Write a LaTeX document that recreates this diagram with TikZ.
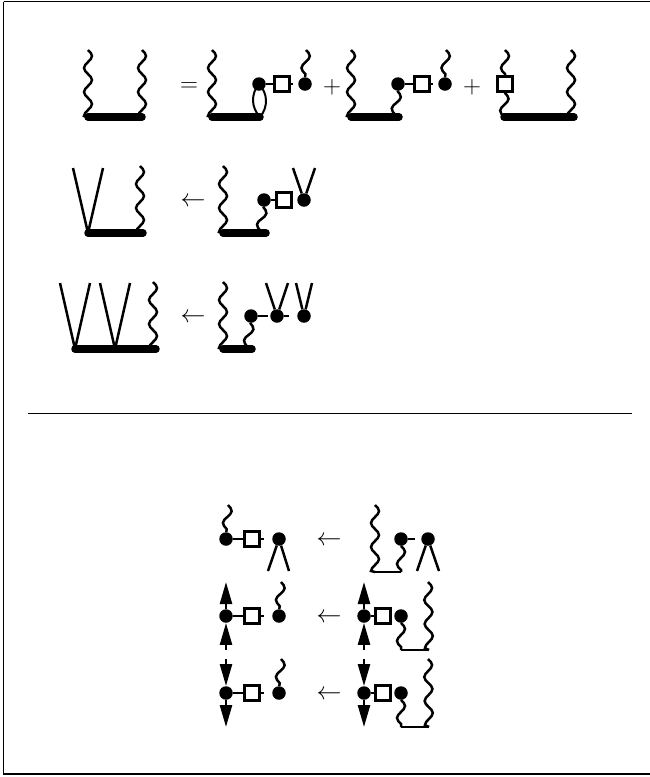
\documentclass[tikz,border=0pt]{standalone}
\usetikzlibrary{arrows.meta,decorations}
\pgfdeclaredecoration{wave}{waveA}{
    \state{waveA}[width=6pt, next state=waveB]{\pgfpathcurveto{\pgfqpoint{1.96pt}{2.05pt}}{\pgfqpoint{3.83pt}{4pt}}{\pgfqpoint{6pt}{4pt}}}
    \state{waveB}[width=6pt, next state=waveC]{\pgfpathcurveto{\pgfqpoint{2.17pt}{4pt}}{\pgfqpoint{4.04pt}{2.05pt}}{\pgfqpoint{6pt}{0pt}}}
    \state{waveC}[width=6pt, next state=waveD]{\pgfpathcurveto{\pgfqpoint{1.96pt}{-2.05pt}}{\pgfqpoint{3.83pt}{-4pt}}{\pgfqpoint{6pt}{-4pt}}}
    \state{waveD}[width=6pt, next state=waveA]{\pgfpathcurveto{\pgfqpoint{2.17pt}{-4pt}}{\pgfqpoint{4.04pt}{-2.05pt}}{\pgfqpoint{6pt}{0pt}}}
    \state{final}{\pgfpathlineto{\pgfpointdecoratedpathlast}}
}
\begin{document}
\begin{tikzpicture}[
        x=1pt, y=-1pt,
        dot/.style={circle, fill=black, inner sep=0pt, minimum size=13.5pt},
        sq/.style={rectangle, draw, line width=2.5pt, fill=white, inner sep=0pt, minimum size=15pt},
        op/.style={inner sep=0pt, font=\fontsize{25}{30}\selectfont},
        bar/.style={line width=7.5pt, line cap=round},
        leg/.style={line width=2.5pt},
        wavy/.style={line width=2.5pt, decorate, decoration={wave}},
        uptip/.style={leg, -{Triangle[length=22pt, width=12pt]}}
    ]
        \useasboundingbox (0,0) rectangle (649,777);
        \draw[line width=1.2pt] (3.5,1.5) -- (3.5,774) -- (650,774);
        \draw[line width=1.2pt] (3.5,1.5) -- (650,1.5);
        \draw[line width=0.9pt] (28,413) -- (632,413);

        \coordinate (a1) at (88,117);
        \coordinate (a2) at (142,117);
        \coordinate (a3) at (88,50);
        \coordinate (a4) at (142,50);
        \draw[bar] (a1) -- (a2);
        \draw[wavy] (a3) -- (a1);
        \draw[wavy] (a4) -- (a2);
        \node[op] (eq) at (189,87) {$=$};

        \coordinate (b1) at (212,117);
        \coordinate (b2) at (260,117);
        \coordinate (b3) at (212,50);
        \coordinate (b4) at (306,50);
        \coordinate (b5) at (293,84);
        \node[dot] (bd) at (259,84) {};
        \node[sq] (bs) at (282,84) {};
        \node[dot] (be) at (305,84) {};
        \draw[bar] (b1) -- (b2);
        \draw[wavy] (b3) -- (b1);
        \draw[leg] (bd) -- (bs);
        \draw[leg] (bs) -- (b5);
        \draw[wavy] (b4) -- (be);
        \draw[line width=2pt] (bd.center) to[bend left=42] (b2);
        \draw[line width=2pt] (bd.center) to[bend right=42] (b2);
        \node[op] (pa) at (332,87) {$+$};

        \coordinate (c1) at (351,117);
        \coordinate (c2) at (399,117);
        \coordinate (c3) at (351,50);
        \coordinate (c4) at (446,50);
        \coordinate (c5) at (433,84);
        \coordinate (c6) at (395,117);
        \node[dot] (cd) at (398,84) {};
        \node[sq] (cs) at (422,84) {};
        \node[dot] (ce) at (445,84) {};
        \draw[bar] (c1) -- (c2);
        \draw[wavy] (c3) -- (c1);
        \draw[wavy] (cd) -- (c6);
        \draw[leg] (cd) -- (cs);
        \draw[leg] (cs) -- (c5);
        \draw[wavy] (c4) -- (ce);
        \node[op] (pb) at (472,87) {$+$};

        \coordinate (d1) at (504,117);
        \coordinate (d2) at (574,117);
        \coordinate (d3) at (505,50);
        \coordinate (d4) at (571,50);
        \coordinate (d5) at (571,117);
        \node[sq] (ds) at (505,84) {};
        \draw[bar] (d1) -- (d2);
        \draw[wavy] (d3) -- (ds);
        \draw[wavy] (ds) -- (d1);
        \draw[wavy] (d4) -- (d5);

        \coordinate (e1) at (88,233);
        \coordinate (e2) at (143,233);
        \coordinate (e3) at (73,168);
        \coordinate (e4) at (103,168);
        \coordinate (e5) at (140,166);
        \coordinate (e6) at (140,233);
        \draw[bar] (e1) -- (e2);
        \draw[leg] (e3) -- (e1);
        \draw[leg] (e4) -- (e1);
        \draw[wavy] (e5) -- (e6);
        \node[op] (la) at (193,202) {$\leftarrow$};

        \coordinate (f1) at (223,233);
        \coordinate (f2) at (266,233);
        \coordinate (f3) at (223,166);
        \coordinate (f4) at (260,233);
        \coordinate (f5) at (293,168);
        \coordinate (f6) at (315,168);
        \node[dot] (fd) at (264,200) {};
        \node[sq] (fs) at (284,200) {};
        \node[dot] (fe) at (304,200) {};
        \draw[bar] (f1) -- (f2);
        \draw[wavy] (f3) -- (f1);
        \draw[wavy] (fd) -- (f4);
        \draw[leg] (fd) -- (fs);
        \draw[leg] (f5) -- (fe);
        \draw[leg] (f6) -- (fe);

        \coordinate (g1) at (75,349);
        \coordinate (g2) at (156,349);
        \coordinate (g3) at (60,283);
        \coordinate (g4) at (90,283);
        \coordinate (g5) at (115,349);
        \coordinate (g6) at (100,283);
        \coordinate (g7) at (130,283);
        \coordinate (g8) at (153,282);
        \coordinate (g9) at (153,349);
        \draw[bar] (g1) -- (g2);
        \draw[leg] (g3) -- (g1);
        \draw[leg] (g4) -- (g1);
        \draw[leg] (g6) -- (g5);
        \draw[leg] (g7) -- (g5);
        \draw[wavy] (g8) -- (g9);
        \node[op] (lb) at (193,318) {$\leftarrow$};

        \coordinate (h1) at (223,349);
        \coordinate (h2) at (252,349);
        \coordinate (h3) at (223,282);
        \coordinate (h4) at (247,349);
        \coordinate (h5) at (268,316);
        \coordinate (h6) at (289,316);
        \coordinate (h7) at (266,283);
        \coordinate (h8) at (288,283);
        \coordinate (h9) at (296,283);
        \coordinate (h10) at (312,283);
        \node[dot] (hd) at (251,316) {};
        \node[dot] (he) at (277,316) {};
        \node[dot] (hf) at (304,316) {};
        \draw[bar] (h1) -- (h2);
        \draw[wavy] (h3) -- (h1);
        \draw[wavy] (hd) -- (h4);
        \draw[leg] (hd) -- (h5);
        \draw[leg] (he) -- (h6);
        \draw[leg] (h7) -- (he);
        \draw[leg] (h8) -- (he);
        \draw[leg] (h9) -- (hf);
        \draw[leg] (h10) -- (hf);

        \coordinate (i1) at (228,505);
        \coordinate (i2) at (264,539);
        \coordinate (i3) at (268,571);
        \coordinate (i4) at (289,571);
        \node[dot] (id) at (226,539) {};
        \node[sq] (is) at (252,539) {};
        \node[dot] (ie) at (279,539) {};
        \draw[wavy] (i1) -- (id);
        \draw[leg] (id) -- (is);
        \draw[leg] (is) -- (i2);
        \draw[leg] (ie) -- (i3);
        \draw[leg] (ie) -- (i4);
        \node[op] (lc) at (329,541) {$\leftarrow$};

        \coordinate (j1) at (375,505);
        \coordinate (j2) at (375,572);
        \coordinate (j3) at (401,572);
        \coordinate (j4) at (415,539);
        \coordinate (j5) at (417,571);
        \coordinate (j6) at (439,571);
        \node[dot] (jd) at (401,539) {};
        \node[dot] (je) at (428,539) {};
        \draw[wavy] (j1) -- (j2);
        \draw[leg] (j2) -- (j3);
        \draw[wavy] (jd) -- (j3);
        \draw[leg] (jd) -- (j4);
        \draw[leg] (je) -- (j5);
        \draw[leg] (je) -- (j6);

        \coordinate (k1) at (226,582);
        \coordinate (k2) at (226,650);
        \coordinate (k3) at (264,616);
        \coordinate (k4) at (281,582);
        \node[dot] (kd) at (226,616) {};
        \node[sq] (ks) at (252,616) {};
        \node[dot] (ke) at (279,616) {};
        \draw[uptip] (kd) -- (k1);
        \draw[uptip] (k2) -- (kd);
        \draw[leg] (kd) -- (ks);
        \draw[leg] (ks) -- (k3);
        \draw[wavy] (k4) -- (ke);
        \node[op] (ld) at (329,618) {$\leftarrow$};

        \coordinate (m1) at (364,582);
        \coordinate (m2) at (364,650);
        \coordinate (m3) at (401,650);
        \coordinate (m4) at (429,650);
        \coordinate (m5) at (428,582);
        \node[dot] (md) at (364,616) {};
        \node[sq] (ms) at (383,616) {};
        \node[dot] (me) at (401,616) {};
        \draw[uptip] (md) -- (m1);
        \draw[uptip] (m2) -- (md);
        \draw[leg] (md) -- (ms);
        \draw[wavy] (me) -- (m3);
        \draw[leg] (m3) -- (m4);
        \draw[wavy] (m5) -- (m4);

        \coordinate (n1) at (226,659);
        \coordinate (n2) at (226,727);
        \coordinate (n3) at (264,693);
        \coordinate (n4) at (281,659);
        \node[dot] (nd) at (226,693) {};
        \node[sq] (ns) at (252,693) {};
        \node[dot] (ne) at (279,693) {};
        \draw[uptip] (n1) -- (nd);
        \draw[uptip] (nd) -- (n2);
        \draw[leg] (nd) -- (ns);
        \draw[leg] (ns) -- (n3);
        \draw[wavy] (n4) -- (ne);
        \node[op] (le) at (329,695) {$\leftarrow$};

        \coordinate (p1) at (364,659);
        \coordinate (p2) at (364,727);
        \coordinate (p3) at (401,727);
        \coordinate (p4) at (429,727);
        \coordinate (p5) at (428,659);
        \node[dot] (pd) at (364,693) {};
        \node[sq] (ps) at (383,693) {};
        \node[dot] (pe) at (401,693) {};
        \draw[uptip] (p1) -- (pd);
        \draw[uptip] (pd) -- (p2);
        \draw[leg] (pd) -- (ps);
        \draw[wavy] (pe) -- (p3);
        \draw[leg] (p3) -- (p4);
        \draw[wavy] (p5) -- (p4);
    \end{tikzpicture}
\end{document}
